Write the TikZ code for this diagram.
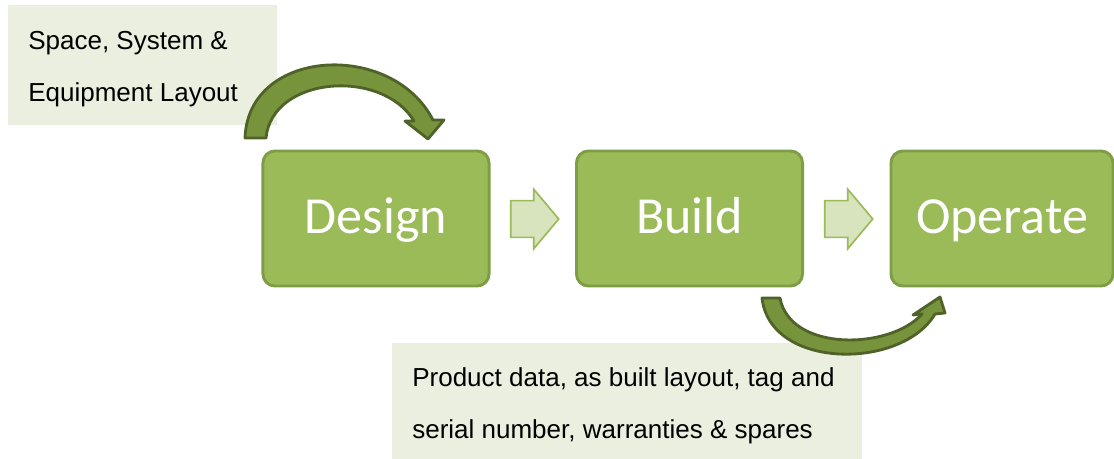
\documentclass[tikz,border=0pt]{standalone}
\usepackage{fontspec}
\setmainfont{Liberation Sans}
\newfontfamily\stagefont{Carlito}
\usetikzlibrary{positioning, shapes.arrows}

\definecolor{stagegreen}{HTML}{9BBB59}
\definecolor{stageline}{HTML}{7F9D47}
\definecolor{flowfill}{HTML}{D7E4BD}
\definecolor{curvefill}{HTML}{77933C}
\definecolor{curveline}{HTML}{4F6228}
\definecolor{notefill}{HTML}{EBEFDF}
\def\px{0.7113pt}

\begin{document}
\begin{tikzpicture}[x=0.025cm, y=-0.025cm,
    stage/.style={rectangle, rounded corners=8.5pt, fill=stagegreen, draw=stageline,
      line width=2.1pt, minimum width=226*\px, minimum height=135*\px, inner sep=0pt,
      text height=22pt, text depth=0pt,
      text=white, font=\stagefont\fontsize{37}{44}\selectfont},
    flow/.style={single arrow, fill=flowfill, draw=stagegreen, line width=1.2pt,
      minimum height=48*\px, inner xsep=0pt, inner ysep=17.5*\px,
      single arrow head extend=11.5*\px, single arrow tip angle=100},
    notebox/.style={rectangle, fill=notefill, inner sep=0pt, anchor=north west},
    notetext/.style={inner sep=0pt, anchor=north west, align=left,
      font=\fontsize{18.5}{37}\selectfont},
    curved/.style={fill=curvefill, draw=curveline, line width=2pt, line join=round}]
    \useasboundingbox (0,0) rectangle (1114,459);

    % Notes
    \node[notebox, minimum width=269*\px, minimum height=120*\px] (layoutnote) at (8,5) {};
    \node[notetext] (layouttext) at (28,31) {Space, System \&\\Equipment Layout};

    \node[notebox, minimum width=470*\px, minimum height=120*\px] (handover) at (392,343) {};

    % Stages
    \node[stage] (design) at (376,218.5) {Design};
    \node[stage] (build) at (689.5,218.5) {Build};
    \node[stage, minimum width=222*\px] (operate) at (1002,218.5) {Operate};

    % Flow arrows
    \node[flow] (flowa) at (527,219) {};
    \node[flow] (flowb) at (841,219) {};

    % Curved arrows
    \draw[curved] (266,138) -- (245,138)
      .. controls (248,48) and (392,40) .. (433,120) -- (444,120) -- (428,139)
      -- (405,121) -- (414,121) .. controls (382,68) and (272,76) .. cycle;
    \draw[curved] (780,298) -- (762,298)
      .. controls (770,370) and (902,370) .. (935,314) -- (945,313) -- (940,297)
      -- (913,315) -- (922,314) .. controls (890,350) and (790,352) .. cycle;

    \node[notetext] (handovertext) at (412,367)
      {Product data, as built layout, tag and\\serial number, warranties \& spares};
\end{tikzpicture}
\end{document}
